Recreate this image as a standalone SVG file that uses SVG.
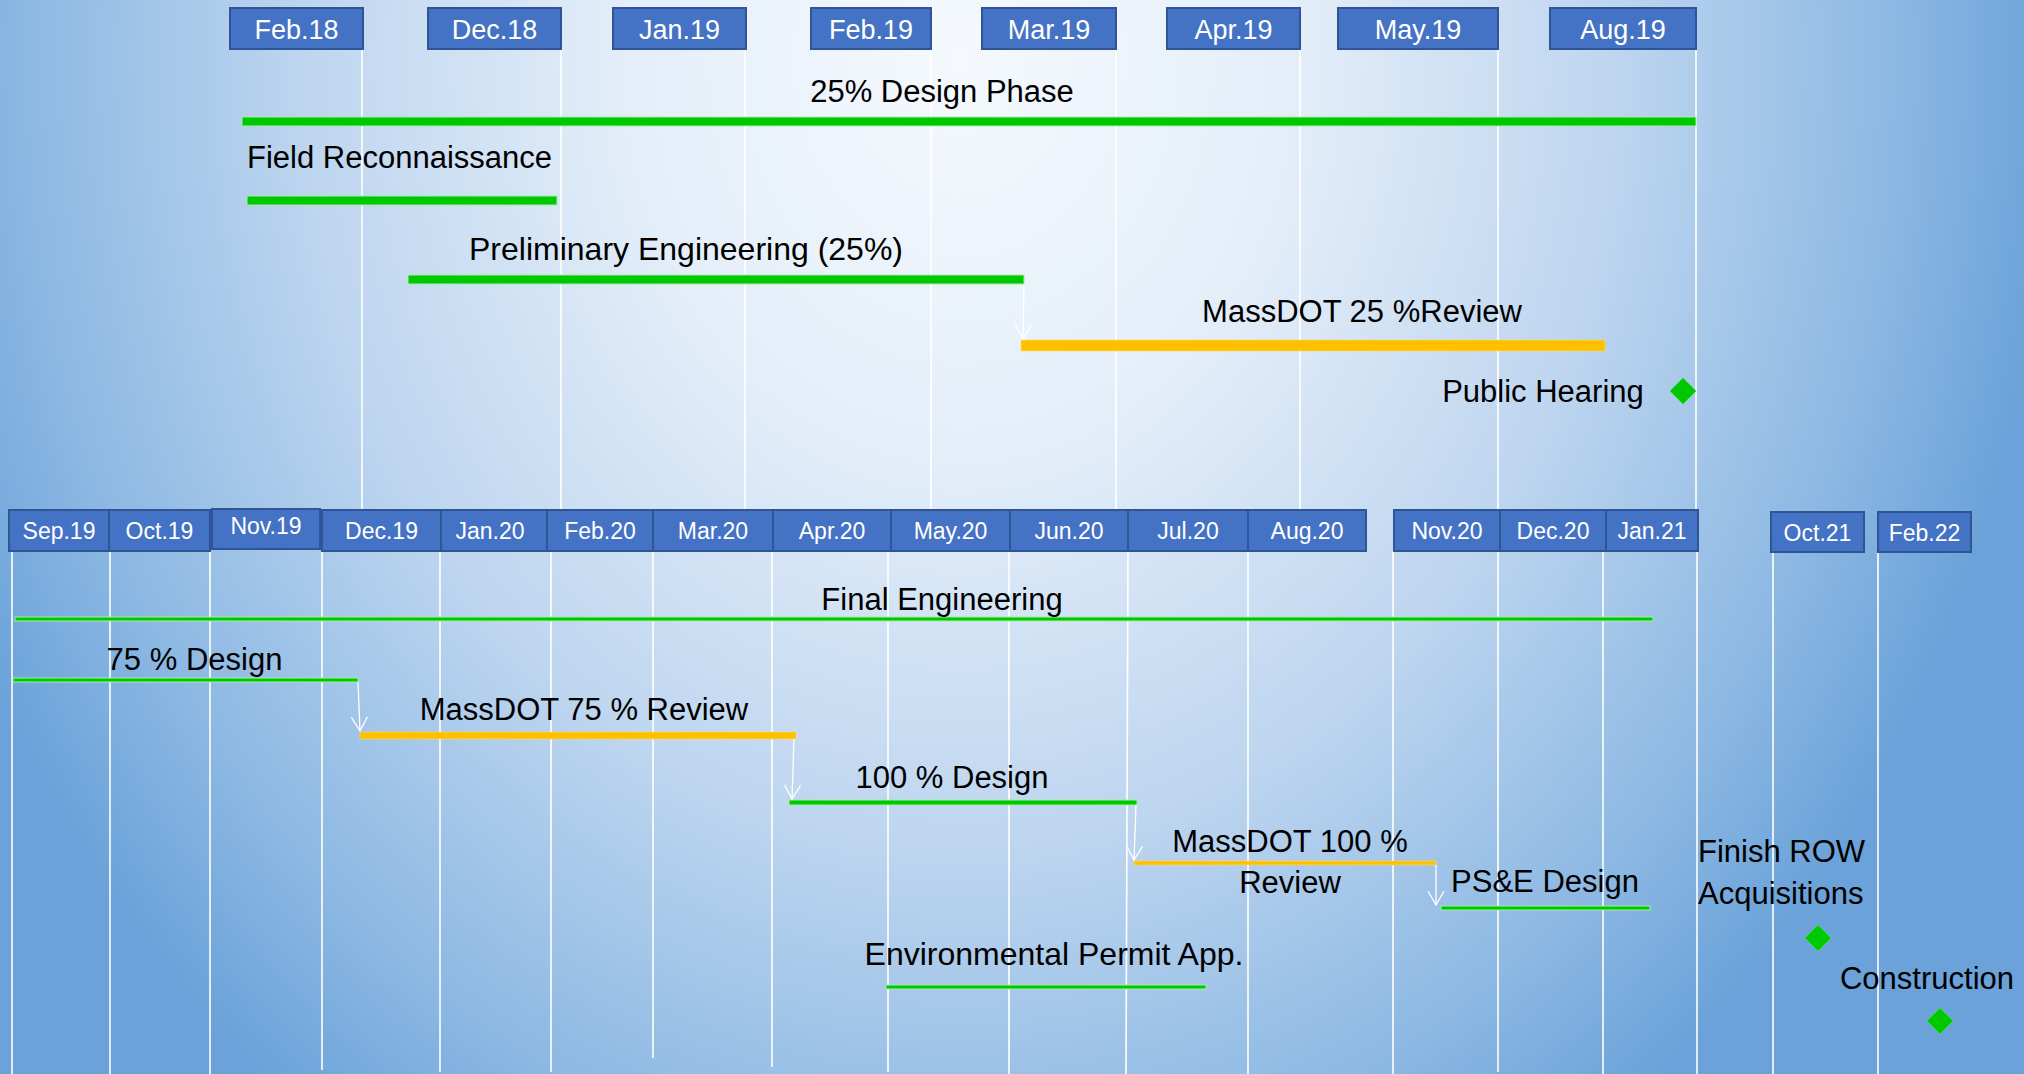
<svg xmlns="http://www.w3.org/2000/svg" width="2024" height="1074" viewBox="0 0 2024 1074">
<defs>
<radialGradient id="bg" gradientUnits="userSpaceOnUse" cx="960" cy="60" r="1100" gradientTransform="translate(960 60) scale(1 1.2) translate(-960 -60)">
<stop offset="0" stop-color="#f5f9fd"/>
<stop offset="0.3" stop-color="#e4eef9"/>
<stop offset="0.6" stop-color="#bdd5ef"/>
<stop offset="0.85" stop-color="#8cb8e3"/>
<stop offset="1" stop-color="#6aa2d9"/>
</radialGradient>
<marker id="arr" markerUnits="userSpaceOnUse" markerWidth="16" markerHeight="18" viewBox="0 0 16 18" refX="15" refY="9" orient="auto">
<path d="M1,1 L15,9 L1,17" fill="none" stroke="#ffffff" stroke-width="1.3"/>
</marker>
</defs>
<style>
.box{fill:#4472c4;stroke:#2f5597;stroke-width:2}
.bl{font-family:"Liberation Sans",Arial,sans-serif;fill:#ffffff;text-anchor:middle}
.tl{font-size:27px}
.sl{font-size:23px}
.lbl{font-family:"Liberation Sans",Arial,sans-serif;font-size:31px;fill:#000000}
.mid{text-anchor:middle}
.grid{stroke:#ffffff;stroke-width:1.6}
.g{fill:#00c800;stroke:#a8eca8;stroke-width:1}
.o{fill:#ffc000;stroke:#ffd966;stroke-width:0.6}
.conn{stroke:#ffffff;stroke-width:1.3;fill:none;marker-end:url(#arr)}
.ms{fill:#00c800;stroke:#33dd33;stroke-width:1}
</style>
<rect x="0" y="0" width="2024" height="1074" fill="url(#bg)"/>

<g id="grid">
<line class="grid" x1="362" y1="49" x2="362" y2="510"/>
<line class="grid" x1="561" y1="49" x2="561" y2="510"/>
<line class="grid" x1="745" y1="49" x2="745" y2="510"/>
<line class="grid" x1="931" y1="49" x2="931" y2="510"/>
<line class="grid" x1="1116" y1="49" x2="1116" y2="510"/>
<line class="grid" x1="1300" y1="49" x2="1300" y2="510"/>
<line class="grid" x1="1498" y1="49" x2="1498" y2="510"/>
<line class="grid" x1="1696" y1="49" x2="1696" y2="510"/>
<line class="grid" x1="12" y1="551" x2="12" y2="1074"/>
<line class="grid" x1="110" y1="551" x2="110" y2="1074"/>
<line class="grid" x1="210" y1="551" x2="210" y2="1074"/>
<line class="grid" x1="322" y1="551" x2="322" y2="1070"/>
<line class="grid" x1="440" y1="551" x2="440" y2="1072"/>
<line class="grid" x1="551" y1="551" x2="551" y2="1072"/>
<line class="grid" x1="653" y1="551" x2="653" y2="1058"/>
<line class="grid" x1="772" y1="551" x2="772" y2="1067"/>
<line class="grid" x1="888" y1="551" x2="888" y2="1072"/>
<line class="grid" x1="1009" y1="551" x2="1009" y2="1074"/>
<line class="grid" x1="1128" y1="551" x2="1126" y2="1074"/>
<line class="grid" x1="1248" y1="551" x2="1248" y2="1074"/>
<line class="grid" x1="1393" y1="551" x2="1393" y2="1074"/>
<line class="grid" x1="1498" y1="551" x2="1498" y2="1072"/>
<line class="grid" x1="1603" y1="551" x2="1603" y2="1074"/>
<line class="grid" x1="1697" y1="551" x2="1697" y2="1074"/>
<line class="grid" x1="1773" y1="552" x2="1773" y2="1074"/>
<line class="grid" x1="1878" y1="552" x2="1878" y2="1074"/>
</g>

<g id="top-timeline">
<g id="m-feb18"><rect class="box" x="230" y="8" width="133" height="41"/><text class="bl tl" x="296.5" y="39">Feb.18</text></g>
<g id="m-dec18"><rect class="box" x="428" y="8" width="133" height="41"/><text class="bl tl" x="494.5" y="39">Dec.18</text></g>
<g id="m-jan19"><rect class="box" x="613" y="8" width="133" height="41"/><text class="bl tl" x="679.5" y="39">Jan.19</text></g>
<g id="m-feb19"><rect class="box" x="811" y="8" width="120" height="41"/><text class="bl tl" x="871" y="39">Feb.19</text></g>
<g id="m-mar19"><rect class="box" x="982" y="8" width="134" height="41"/><text class="bl tl" x="1049" y="39">Mar.19</text></g>
<g id="m-apr19"><rect class="box" x="1167" y="8" width="133" height="41"/><text class="bl tl" x="1233.5" y="39">Apr.19</text></g>
<g id="m-may19"><rect class="box" x="1338" y="8" width="160" height="41"/><text class="bl tl" x="1418" y="39">May.19</text></g>
<g id="m-aug19"><rect class="box" x="1550" y="8" width="146" height="41"/><text class="bl tl" x="1623" y="39">Aug.19</text></g>
</g>

<g id="bottom-timeline">
<g id="m-sep19"><rect class="box" x="9" y="510" width="100" height="41"/><text class="bl sl" x="59" y="539">Sep.19</text></g>
<g id="m-oct19"><rect class="box" x="109" y="510" width="101" height="41"/><text class="bl sl" x="159.5" y="539">Oct.19</text></g>
<g id="m-nov19"><rect class="box" x="212" y="509" width="108" height="40"/><text class="bl sl" x="266" y="534">Nov.19</text></g>
<g id="m-dec19"><rect class="box" x="322" y="510" width="119" height="41"/><text class="bl sl" x="381.5" y="539">Dec.19</text></g>
<g id="m-jan20"><rect class="box" x="441" y="510" width="106" height="41"/><text class="bl sl" x="490" y="539">Jan.20</text></g>
<g id="m-feb20"><rect class="box" x="547" y="510" width="106" height="41"/><text class="bl sl" x="600" y="539">Feb.20</text></g>
<g id="m-mar20"><rect class="box" x="653" y="510" width="120" height="41"/><text class="bl sl" x="713" y="539">Mar.20</text></g>
<g id="m-apr20"><rect class="box" x="773" y="510" width="118" height="41"/><text class="bl sl" x="832" y="539">Apr.20</text></g>
<g id="m-may20"><rect class="box" x="891" y="510" width="119" height="41"/><text class="bl sl" x="950.5" y="539">May.20</text></g>
<g id="m-jun20"><rect class="box" x="1010" y="510" width="118" height="41"/><text class="bl sl" x="1069" y="539">Jun.20</text></g>
<g id="m-jul20"><rect class="box" x="1128" y="510" width="120" height="41"/><text class="bl sl" x="1188" y="539">Jul.20</text></g>
<g id="m-aug20"><rect class="box" x="1248" y="510" width="118" height="41"/><text class="bl sl" x="1307" y="539">Aug.20</text></g>
<g id="m-nov20"><rect class="box" x="1394" y="510" width="106" height="41"/><text class="bl sl" x="1447" y="539">Nov.20</text></g>
<g id="m-dec20"><rect class="box" x="1500" y="510" width="106" height="41"/><text class="bl sl" x="1553" y="539">Dec.20</text></g>
<g id="m-jan21"><rect class="box" x="1606" y="510" width="92" height="41"/><text class="bl sl" x="1652" y="539">Jan.21</text></g>
<g id="m-oct21"><rect class="box" x="1771" y="512" width="93" height="40"/><text class="bl sl" x="1817.5" y="541">Oct.21</text></g>
<g id="m-feb22"><rect class="box" x="1878" y="512" width="93" height="40"/><text class="bl sl" x="1924.5" y="541">Feb.22</text></g>
</g>

<g id="task-25-design-phase"><rect class="g" x="242" y="117" width="1454" height="9"/><text class="lbl mid" x="942" y="102">25% Design Phase</text></g>
<g id="task-field-recon"><rect class="g" x="247" y="196" width="310" height="9"/><text class="lbl" x="247" y="168">Field Reconnaissance</text></g>
<g id="task-prelim-eng"><rect class="g" x="408" y="275" width="616" height="9"/><text class="lbl mid" x="686" y="260" style="font-size:32px">Preliminary Engineering (25%)</text></g>
<g id="task-massdot-25"><rect class="o" x="1021" y="340" width="584" height="11"/><text class="lbl mid" x="1362" y="322">MassDOT 25 %Review</text></g>
<g id="ms-public-hearing"><polygon class="ms" points="1683,378 1696,391 1683,404 1670,391"/><text class="lbl mid" x="1543" y="402">Public Hearing</text></g>

<g id="task-final-eng"><rect class="g" x="15" y="617" width="1638" height="4"/><text class="lbl mid" x="942" y="610">Final Engineering</text></g>
<g id="task-75-design"><rect class="g" x="13" y="678" width="345" height="4"/><text class="lbl mid" x="194.5" y="670">75 % Design</text></g>
<g id="task-massdot-75"><rect class="o" x="360" y="732" width="436" height="7"/><text class="lbl mid" x="584" y="720">MassDOT 75 % Review</text></g>
<g id="task-100-design"><rect class="g" x="789" y="800" width="348" height="5"/><text class="lbl mid" x="952" y="788">100 % Design</text></g>
<g id="task-massdot-100"><rect class="o" x="1134" y="861" width="302" height="4"/><text class="lbl mid" x="1290" y="852">MassDOT 100 %</text><text class="lbl mid" x="1290" y="893">Review</text></g>
<g id="task-pse-design"><rect class="g" x="1441" y="906" width="209" height="4"/><text class="lbl mid" x="1545" y="892">PS&amp;E Design</text></g>
<g id="task-env-permit"><rect class="g" x="886" y="985" width="320" height="4"/><text class="lbl mid" x="1054" y="965" style="font-size:32px">Environmental Permit App.</text></g>
<g id="ms-finish-row"><polygon class="ms" points="1818,925 1831,938 1818,951 1805,938"/><text class="lbl" x="1698" y="862">Finish ROW</text><text class="lbl" x="1698" y="904">Acquisitions</text></g>
<g id="ms-construction"><polygon class="ms" points="1940,1008 1953,1021 1940,1034 1927,1021"/><text class="lbl mid" x="1927" y="989">Construction</text></g>

<g id="connectors">
<line class="conn" x1="1024" y1="285" x2="1023" y2="339"/>
<line class="conn" x1="358" y1="682" x2="360" y2="731"/>
<line class="conn" x1="794" y1="739" x2="792" y2="799"/>
<line class="conn" x1="1136" y1="805" x2="1134" y2="860"/>
<line class="conn" x1="1436" y1="865" x2="1436" y2="905"/>
</g>
</svg>
